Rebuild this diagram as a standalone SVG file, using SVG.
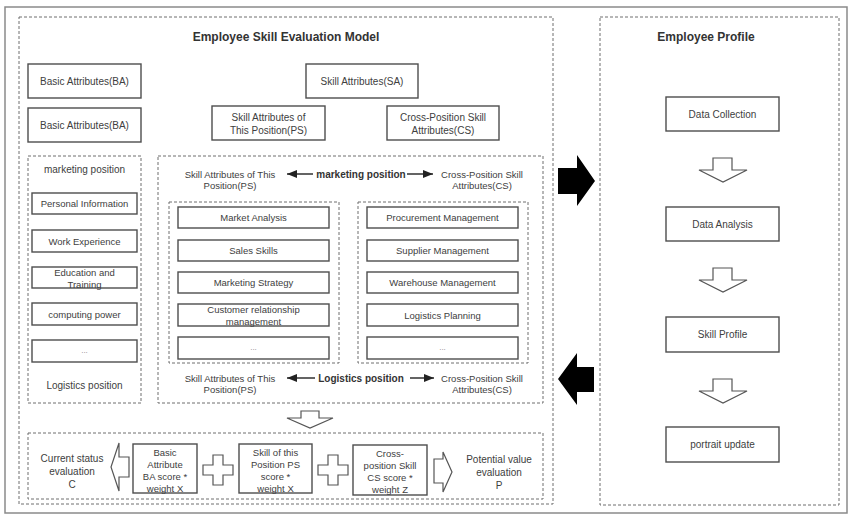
<svg xmlns="http://www.w3.org/2000/svg" width="850" height="515" viewBox="0 0 850 515">
<defs>
<style>
text{font-family:"Liberation Sans",Arial,sans-serif;fill:#404040;text-anchor:middle}
.t{font-size:12px;font-weight:bold;fill:#333}
.b{font-size:10px}
.s{font-size:9.5px}
.bb{font-size:10px;font-weight:bold;fill:#333}
.dot{font-size:8px;fill:#888}
.box{fill:#fff;stroke:#4d4d4d;stroke-width:1.4}
.dash{fill:none;stroke:#6e6e6e;stroke-width:1;stroke-dasharray:3 2}
.hol{fill:#fff;stroke:#555;stroke-width:1.2;stroke-linejoin:miter}
.blk{fill:#000}
.ln{stroke:#222;stroke-width:1.4;fill:none}
</style>
<marker id="ah" viewBox="0 0 10 8" refX="10" refY="4" markerWidth="10" markerHeight="8" markerUnits="userSpaceOnUse" orient="auto">
<path d="M0,0 L10,4 L0,8 Z" fill="#222"/>
</marker>
</defs>
<rect x="0" y="0" width="850" height="515" fill="#fff"/>
<rect x="5" y="7" width="842" height="506" fill="none" stroke="#8a8a8a" stroke-width="1.5"/>

<g id="frames">
<rect class="dash" x="19" y="17" width="534" height="487"/>
<text class="t" x="286" y="41">Employee Skill Evaluation Model</text>
<rect class="dash" x="600" y="17" width="239" height="488"/>
<text class="t" x="706" y="41">Employee Profile</text>
</g>

<g id="ba1"><rect class="box" x="28" y="64" width="113" height="34"/><text class="b" x="84.5" y="84.5">Basic Attributes(BA)</text></g>
<g id="ba2"><rect class="box" x="28" y="108" width="113" height="34"/><text class="b" x="84.5" y="128.5">Basic Attributes(BA)</text></g>
<g id="sa"><rect class="box" x="306" y="64" width="112" height="34"/><text class="b" x="362" y="84.5">Skill Attributes(SA)</text></g>
<g id="ps"><rect class="box" x="212" y="106" width="113" height="34"/><text class="b" x="268.5" y="120.5">Skill Attributes of</text><text class="b" x="268.5" y="133.5">This Position(PS)</text></g>
<g id="cs"><rect class="box" x="387" y="106" width="112" height="34"/><text class="b" x="443" y="120.5">Cross-Position Skill</text><text class="b" x="443" y="133.5">Attributes(CS)</text></g>

<g id="ba-list">
<rect class="dash" x="28" y="156" width="113" height="247"/>
<text class="b" x="84.5" y="172.5">marketing position</text>
<rect class="box" x="32" y="193" width="105" height="21"/><text class="s" x="84.5" y="207">Personal Information</text>
<rect class="box" x="32" y="230" width="105" height="22"/><text class="s" x="84.5" y="244.5">Work Experience</text>
<rect class="box" x="32" y="267" width="105" height="21"/><text class="s" x="84.5" y="276">Education and</text><text class="s" x="84.5" y="287.5">Training</text>
<rect class="box" x="32" y="303" width="105" height="22"/><text class="s" x="84.5" y="317.5">computing power</text>
<rect class="box" x="32" y="340" width="105" height="22"/><text class="dot" x="84.5" y="353">...</text>
<text class="b" x="84.5" y="388.5">Logistics position</text>
</g>

<g id="skill-panel">
<rect class="dash" x="158" y="156" width="385" height="247"/>
<text class="s" x="230" y="177.5">Skill Attributes of This</text>
<text class="s" x="230" y="189">Position(PS)</text>
<text class="bb" x="361" y="178">marketing position</text>
<text class="s" x="482" y="177.5">Cross-Position Skill</text>
<text class="s" x="482" y="189">Attributes(CS)</text>
<text class="s" x="230" y="381.5">Skill Attributes of This</text>
<text class="s" x="230" y="393">Position(PS)</text>
<text class="bb" x="361" y="382">Logistics position</text>
<text class="s" x="482" y="381.5">Cross-Position Skill</text>
<text class="s" x="482" y="393">Attributes(CS)</text>
</g>

<g id="ps-list">
<rect class="dash" x="169" y="202" width="170" height="161"/>
<rect class="box" x="178" y="207" width="151" height="21"/><text class="s" x="253.5" y="221">Market Analysis</text>
<rect class="box" x="178" y="240" width="151" height="21"/><text class="s" x="253.5" y="254">Sales Skills</text>
<rect class="box" x="178" y="272" width="151" height="21"/><text class="s" x="253.5" y="286">Marketing Strategy</text>
<rect class="box" x="178" y="304" width="151" height="22"/><text class="s" x="253.5" y="313">Customer relationship</text><text class="s" x="253.5" y="325">management</text>
<rect class="box" x="178" y="337" width="151" height="22"/><text class="dot" x="253.5" y="350">...</text>
</g>

<g id="cs-list">
<rect class="dash" x="358" y="202" width="170" height="161"/>
<rect class="box" x="367" y="207" width="151" height="21"/><text class="s" x="442.5" y="221">Procurement Management</text>
<rect class="box" x="367" y="240" width="151" height="21"/><text class="s" x="442.5" y="254">Supplier Management</text>
<rect class="box" x="367" y="272" width="151" height="21"/><text class="s" x="442.5" y="286">Warehouse Management</text>
<rect class="box" x="367" y="304" width="151" height="22"/><text class="s" x="442.5" y="318.5">Logistics Planning</text>
<rect class="box" x="367" y="337" width="151" height="22"/><text class="dot" x="442.5" y="350">...</text>
</g>

<g id="formula">
<rect class="dash" x="28" y="433" width="515" height="66"/>
<text class="b" x="72" y="461.5">Current status</text>
<text class="b" x="72" y="474.5">evaluation</text>
<text class="b" x="72" y="487.5">C</text>
<rect class="box" x="133" y="444" width="64" height="49"/>
<text class="s" x="165" y="455.5">Basic</text>
<text class="s" x="165" y="467.5">Attribute</text>
<text class="s" x="165" y="479.5">BA score *</text>
<text class="s" x="165" y="491.5">weight X</text>
<rect class="box" x="239" y="444" width="73" height="49"/>
<text class="s" x="275.5" y="455.5">Skill of this</text>
<text class="s" x="275.5" y="467.5">Position PS</text>
<text class="s" x="275.5" y="479.5">score *</text>
<text class="s" x="275.5" y="491.5">weight X</text>
<rect class="box" x="353" y="445" width="74" height="50"/>
<text class="s" x="390" y="456.5">Cross-</text>
<text class="s" x="390" y="469">position Skill</text>
<text class="s" x="390" y="481">CS score *</text>
<text class="s" x="390" y="493">weight Z</text>
<text class="b" x="499" y="463">Potential value</text>
<text class="b" x="499" y="476">evaluation</text>
<text class="b" x="499" y="489">P</text>
</g>

<g id="dc"><rect class="box" x="666" y="97" width="113" height="34"/><text class="b" x="722.5" y="117.5">Data Collection</text></g>
<g id="da"><rect class="box" x="666" y="207" width="113" height="34"/><text class="b" x="722.5" y="227.5">Data Analysis</text></g>
<g id="sp"><rect class="box" x="666" y="317" width="113" height="35"/><text class="b" x="722.5" y="338">Skill Profile</text></g>
<g id="pu"><rect class="box" x="666" y="427" width="113" height="35"/><text class="b" x="722.5" y="448">portrait update</text></g>

<g id="connectors">
<line class="ln" x1="313" y1="174" x2="287" y2="174" marker-end="url(#ah)"/>
<line class="ln" x1="407" y1="174" x2="433" y2="174" marker-end="url(#ah)"/>
<line class="ln" x1="315" y1="378" x2="287" y2="378" marker-end="url(#ah)"/>
<line class="ln" x1="410" y1="378" x2="434" y2="378" marker-end="url(#ah)"/>
<path class="blk" d="M558,168 L577,168 L577,155 L595,181 L577,206 L577,194 L558,194 Z"/>
<path class="blk" d="M594,367 L577,367 L577,353 L558,379 L577,405 L577,392 L594,392 Z"/>
<path class="hol" d="M301,411 L319,411 L319,418 L333,418 L310,428 L287,418 L301,418 Z"/>
<path class="hol" d="M713,158 L732,158 L732,170 L747,170 L723,182 L699,170 L713,170 Z"/>
<path class="hol" d="M713,268 L732,268 L732,280 L747,280 L723,292 L699,280 L713,280 Z"/>
<path class="hol" d="M713,379 L732,379 L732,391 L747,391 L723,403 L699,391 L713,391 Z"/>
<path class="hol" d="M129,457 L119,457 L119,443 L111,467 L119,491 L119,477 L129,477 Z"/>
<path class="hol" d="M434,459 L443,459 L443,452 L452,472 L443,492 L443,483 L434,483 Z"/>
<path class="hol" d="M213,455 L223,455 L223,465 L233,465 L233,475 L223,475 L223,485 L213,485 L213,475 L203,475 L203,465 L213,465 Z"/>
<path class="hol" d="M328,455 L338,455 L338,465 L348,465 L348,475 L338,475 L338,485 L328,485 L328,475 L318,475 L318,465 L328,465 Z"/>
</g>
</svg>
